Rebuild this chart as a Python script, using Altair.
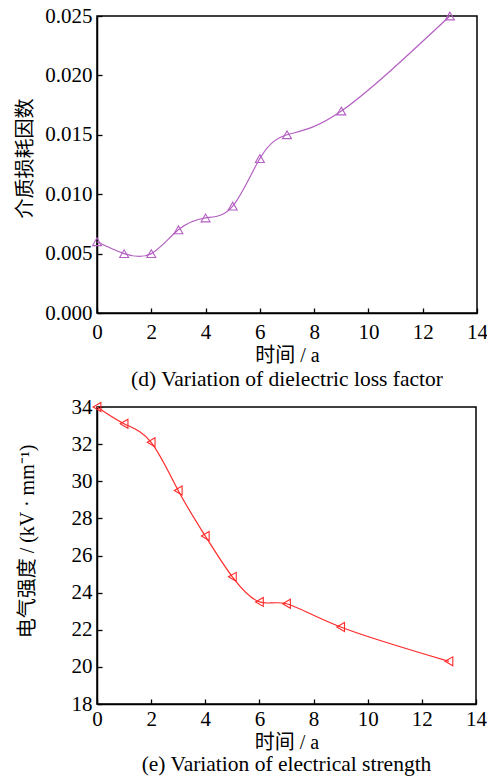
import altair as alt
import pandas as pd

years = [0, 1, 2, 3, 4, 5, 6, 7, 9, 13]
loss_factor = [0.0060, 0.0050, 0.0050, 0.0070, 0.0080, 0.0090, 0.0130, 0.0150, 0.0170, 0.0250]
strength = [34.0, 33.1, 32.1, 29.5, 27.05, 24.85, 23.5, 23.4, 22.15, 20.3]

x_ticks = [0, 2, 4, 6, 8, 10, 12, 14]
y1_ticks = [0.000, 0.005, 0.010, 0.015, 0.020, 0.025]
y2_ticks = [18, 20, 22, 24, 26, 28, 30, 32, 34]

df1 = pd.DataFrame({"t": years, "v": loss_factor})
df2 = pd.DataFrame({"t": years, "v": strength})

LATIN = "Liberation Serif"
MIXED = "Liberation Serif, Noto Sans CJK SC"
LFS = 21
TFS = 20


def panel(df, color, shape, ydom, yticks, yfmt, ytitle, caption, w, h,
          label_pad_x, ytitle_pad, ytitle_y, cap_offset):
    xs = alt.Scale(domain=[0, 14], nice=False, zero=False)
    ys = alt.Scale(domain=ydom, nice=False, zero=False)
    common = dict(ticks=False, grid=False, labelFlush=False, labelOverlap=False,
                  labelFont=LATIN, labelFontSize=LFS, labelColor="black",
                  titleFont=MIXED, titleFontSize=TFS, titleFontWeight="normal",
                  titleColor="black", domainColor="black", domainWidth=1.5)
    xaxis = alt.Axis(values=x_ticks, title="时间 / a",
                     labelPadding=label_pad_x, titlePadding=3, **common)
    yaxis = alt.Axis(values=yticks, format=yfmt, title=ytitle,
                     labelPadding=5, titlePadding=ytitle_pad, titleY=ytitle_y,
                     **common)
    line = alt.Chart(df).mark_line(interpolate="natural", color=color,
                                   strokeWidth=1.2, clip=False).encode(
        x=alt.X("t:Q", scale=xs, axis=xaxis),
        y=alt.Y("v:Q", scale=ys, axis=yaxis),
    )
    pts = alt.Chart(df).mark_point(shape=shape, filled=False, color=color,
                                   size=80, strokeWidth=1.1, opacity=1).encode(
        x=alt.X("t:Q", scale=xs, axis=None),
        y=alt.Y("v:Q", scale=ys, axis=None),
    )
    tick_layer = alt.Chart(df).mark_point(opacity=0, size=1).encode(
        x=alt.X("t:Q", scale=xs,
                axis=alt.Axis(orient="top", offset=-h, values=x_ticks,
                              labels=False, domain=False, ticks=True,
                              tickSize=5, tickColor="black", tickWidth=1.3,
                              title=None, grid=False)),
        y=alt.Y("v:Q", scale=ys,
                axis=alt.Axis(orient="right", offset=-w, values=yticks,
                              labels=False, domain=False, ticks=True,
                              tickSize=5, tickColor="black", tickWidth=1.3,
                              title=None, grid=False)),
    )
    return alt.layer(line, pts, tick_layer).resolve_axis(
        x="independent", y="independent"
    ).properties(
        width=w, height=h,
        title=alt.TitleParams(caption, orient="bottom", font=LATIN,
                              fontSize=21.5, fontWeight="normal", color="black",
                              frame="group", anchor="middle", offset=cap_offset),
    )


top = panel(df1, "#b45fc2", "triangle-up", [0, 0.025], y1_ticks, ".3f",
            "介质损耗因数", "(d) Variation of dielectric loss factor",
            380, 297, 8, 9, 142, 4)
bottom = panel(df2, "#ff2b2b", "triangle-left", [18, 34], y2_ticks, "d",
               "电气强度 / (kV · mm⁻¹)", "(e) Variation of electrical strength",
               379, 297, 4, 34, 134, 2)

chart = alt.vconcat(top, bottom, spacing=3).properties(
    autosize=alt.AutoSizeParams(type="none"),
    padding={"left": 89, "top": 8, "right": 390, "bottom": 762},
).configure_view(
    stroke="black", strokeWidth=1.5
)

chart.save("out.html", embed_options={"renderer": "svg", "actions": False})
